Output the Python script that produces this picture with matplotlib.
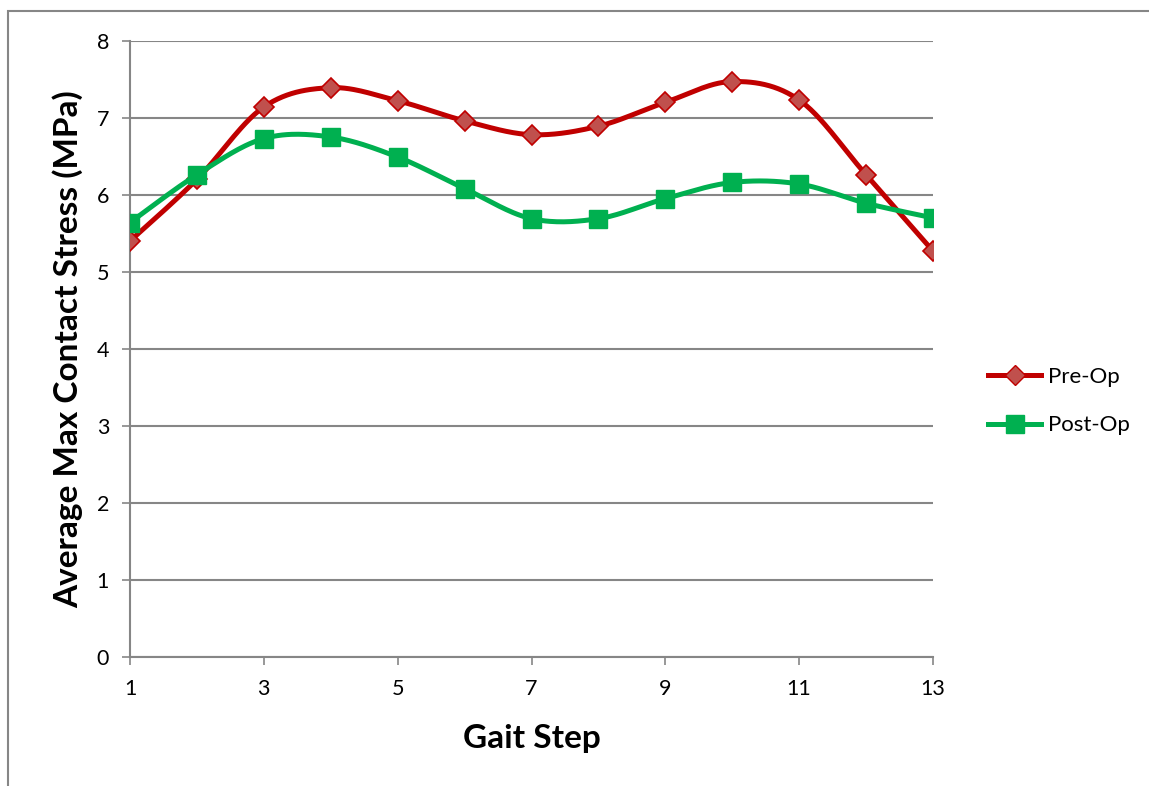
import numpy as np
import matplotlib.pyplot as plt
from matplotlib.patches import Rectangle
from matplotlib.lines import Line2D

# ----- data -----
steps = list(range(1, 14))
pre_op = [5.40, 6.20, 7.14, 7.39, 7.22, 6.96, 6.78, 6.89, 7.20, 7.47, 7.23, 6.26, 5.27]
post_op = [5.64, 6.26, 6.73, 6.75, 6.49, 6.08, 5.69, 5.69, 5.95, 6.16, 6.14, 5.89, 5.70]
x_ticks = [1, 3, 5, 7, 9, 11, 13]
y_ticks = list(range(0, 9))

GRID = "#868686"
RED = "#C00000"
RED_FILL = "#C0504D"
GREEN = "#00B050"
LW = 3.6

plt.rcParams["font.family"] = ["Lato", "DejaVu Sans"]


def smooth(x, y, n=30):
    """Excel-style smoothed line (Catmull-Rom bezier through the points)."""
    x = np.asarray(x, float)
    y = np.asarray(y, float)
    px = np.concatenate([[x[0]], x, [x[-1]]])
    py = np.concatenate([[y[0]], y, [y[-1]]])
    xs, ys = [], []
    t = np.linspace(0, 1, n)
    for i in range(1, len(px) - 2):
        p0 = np.array([px[i], py[i]])
        p3 = np.array([px[i + 1], py[i + 1]])
        c1 = p0 + (np.array([px[i + 1], py[i + 1]]) - np.array([px[i - 1], py[i - 1]])) / 6
        c2 = p3 - (np.array([px[i + 2], py[i + 2]]) - np.array([px[i], py[i]])) / 6
        b = ((1 - t) ** 3)[:, None] * p0 + (3 * (1 - t) ** 2 * t)[:, None] * c1 \
            + (3 * (1 - t) * t ** 2)[:, None] * c2 + (t ** 3)[:, None] * p3
        xs.extend(b[:, 0])
        ys.extend(b[:, 1])
    return xs, ys


fig = plt.figure(figsize=(11.49, 7.86), dpi=100)
fig.patches.append(Rectangle((8 / 1149, -0.1), 1.2, 1 - 11 / 786 + 0.1,
                             transform=fig.transFigure, fill=False,
                             edgecolor=GRID, linewidth=1.5))
ax = fig.add_axes([130 / 1149, 1 - 657 / 786, (933 - 130) / 1149, (657 - 40.7) / 786])

sx, sy = smooth(steps, pre_op)
ax.plot(sx, sy, color=RED, linewidth=LW, solid_capstyle="round", zorder=3)
ax.plot(steps, pre_op, linestyle="none", marker="D", markersize=10,
        markerfacecolor=RED_FILL, markeredgecolor=RED, markeredgewidth=1.2, zorder=4)
sx, sy = smooth(steps, post_op)
ax.plot(sx, sy, color=GREEN, linewidth=LW, solid_capstyle="round", zorder=5)
ax.plot(steps, post_op, linestyle="none", marker="s", markersize=13.5,
        markerfacecolor=GREEN, markeredgecolor=GREEN, zorder=6)

ax.set_xlim(1, 13)
ax.set_ylim(0, 8)
ax.set_xticks(x_ticks)
ax.set_yticks(y_ticks)
ax.yaxis.grid(True, color=GRID, linewidth=1.5)
ax.set_axisbelow(True)
for s in ("top", "right"):
    ax.spines[s].set_visible(False)
for s in ("left", "bottom"):
    ax.spines[s].set_color(GRID)
    ax.spines[s].set_linewidth(1.5)
ax.tick_params(axis="both", direction="out", length=6, width=1.2, color=GRID,
               labelsize=15.5, labelcolor="black")
ax.tick_params(axis="x", pad=10)
ax.tick_params(axis="y", pad=9)

ax.set_xlabel("Gait Step", fontsize=24, fontweight="bold", labelpad=18)
ax.set_ylabel("Average Max Contact Stress (MPa)", fontsize=24, fontweight="bold", labelpad=10)

# legend placed to the right like Excel's
h1 = Line2D([], [], color=RED, linewidth=LW, marker="D", markersize=10,
            markerfacecolor=RED_FILL, markeredgecolor=RED)
h2 = Line2D([], [], color=GREEN, linewidth=LW, marker="s", markersize=13.5,
            markerfacecolor=GREEN, markeredgecolor=GREEN)
fig.legend([h1, h2], ["Pre-Op", "Post-Op"], loc="center left",
           bbox_to_anchor=(968 / 1149, 1 - 401 / 786), frameon=False,
           fontsize=16, handlelength=2.4, handletextpad=0.3, labelspacing=1.3)

fig.savefig("out.png", dpi=100)
